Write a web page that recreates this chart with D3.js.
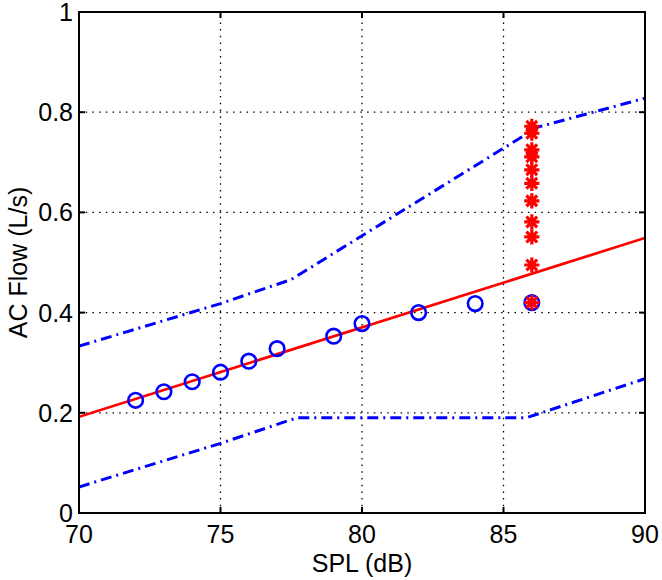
<!DOCTYPE html>
<html><head><meta charset="utf-8">
<script src="https://cdn.jsdelivr.net/npm/d3@7"></script>
<style>body{margin:0;background:#fff}svg{display:block}text{font-family:"Liberation Sans",Arial,sans-serif;fill:#000}</style>
</head><body><svg id="c" width="662" height="580"></svg>
<script>
const xTicks = [70, 75, 80, 85, 90];
const yTicks = [0, 0.2, 0.4, 0.6, 0.8, 1];
const yTickLabels = ["0", "0.2", "0.4", "0.6", "0.8", "1"];
const circleX = [72, 73, 74, 75, 76, 77, 79, 80, 82, 84, 86];
const circleY = [0.225, 0.242, 0.262, 0.281, 0.303, 0.328, 0.353, 0.378, 0.400, 0.418, 0.420];
const starX = 86;
const starY = [0.772, 0.758, 0.725, 0.711, 0.685, 0.658, 0.623, 0.581, 0.551, 0.495, 0.420];
const fitX = [70, 90];
const fitY = [0.192, 0.549];
const upperX = [70, 75, 77.5, 86.2, 90];
const upperY = [0.333, 0.418, 0.466, 0.770, 0.828];
const lowerX = [70, 75, 77.7, 85.8, 90];
const lowerY = [0.052, 0.139, 0.190, 0.190, 0.268];

const svg = d3.select("#c");
const L = 79, R = 645, T = 12, B = 513;
const x = d3.scaleLinear().domain([70, 90]).range([L, R]);
const y = d3.scaleLinear().domain([0, 1]).range([B, T]);

const g = svg.append("g");
g.selectAll(".gx").data(xTicks.slice(1, -1)).join("line")
  .attr("x1", d => x(d)).attr("x2", d => x(d)).attr("y1", B).attr("y2", T)
  .attr("stroke", "#000").attr("stroke-width", 1.3).attr("stroke-dasharray", "1.5,5.2");
g.selectAll(".gy").data(yTicks.slice(1, -1)).join("line")
  .attr("y1", d => y(d)).attr("y2", d => y(d)).attr("x1", L).attr("x2", R)
  .attr("stroke", "#000").attr("stroke-width", 1.3).attr("stroke-dasharray", "1.5,5.2");

svg.append("defs").append("clipPath").attr("id", "cl").append("rect")
  .attr("x", L).attr("y", T).attr("width", R - L).attr("height", B - T);
const plot = svg.append("g").attr("clip-path", "url(#cl)");
const line = d3.line().x(d => x(d[0])).y(d => y(d[1]));

plot.append("path").attr("d", line(d3.zip(upperX, upperY))).attr("fill", "none")
  .attr("stroke", "#0000ff").attr("stroke-width", 3).attr("stroke-dasharray", "11,5,2,5");
plot.append("path").attr("d", line(d3.zip(lowerX, lowerY))).attr("fill", "none")
  .attr("stroke", "#0000ff").attr("stroke-width", 3).attr("stroke-dasharray", "11,5,2,5");
plot.append("path").attr("d", line(d3.zip(fitX, fitY))).attr("fill", "none")
  .attr("stroke", "#ff0000").attr("stroke-width", 2.7);

plot.selectAll(".ci").data(d3.zip(circleX, circleY)).join("circle")
  .attr("cx", d => x(d[0])).attr("cy", d => y(d[1])).attr("r", 7.3)
  .attr("fill", "none").attr("stroke", "#0000ff").attr("stroke-width", 2.6);

const sr = 7.6, sd = sr * Math.SQRT1_2;
const starPath = `M${-sr},0L${sr},0M0,${-sr}L0,${sr}M${-sd},${-sd}L${sd},${sd}M${-sd},${sd}L${sd},${-sd}`;
plot.selectAll(".st").data(starY).join("path")
  .attr("transform", d => `translate(${x(starX)},${y(d)})`)
  .attr("d", starPath).attr("fill", "none").attr("stroke", "#ff0000").attr("stroke-width", 3.2);

svg.append("rect").attr("x", L).attr("y", T).attr("width", R - L).attr("height", B - T)
  .attr("fill", "none").attr("stroke", "#000").attr("stroke-width", 2);

const tl = 6;
xTicks.forEach(v => {
  svg.append("line").attr("x1", x(v)).attr("x2", x(v)).attr("y1", B).attr("y2", B - tl).attr("stroke", "#000").attr("stroke-width", 2);
  svg.append("line").attr("x1", x(v)).attr("x2", x(v)).attr("y1", T).attr("y2", T + tl).attr("stroke", "#000").attr("stroke-width", 2);
});
yTicks.forEach(v => {
  svg.append("line").attr("y1", y(v)).attr("y2", y(v)).attr("x1", L).attr("x2", L + tl).attr("stroke", "#000").attr("stroke-width", 2);
  svg.append("line").attr("y1", y(v)).attr("y2", y(v)).attr("x1", R).attr("x2", R - tl).attr("stroke", "#000").attr("stroke-width", 2);
});

svg.selectAll(".xl").data(xTicks).join("text")
  .attr("x", d => x(d)).attr("y", 543).attr("text-anchor", "middle")
  .attr("font-size", 25).text(d => d);
svg.selectAll(".yl").data(yTicks).join("text")
  .attr("x", 73).attr("y", d => y(d) + 9).attr("text-anchor", "end")
  .attr("font-size", 25).text((d, i) => yTickLabels[i]);

svg.append("text").attr("x", x(80)).attr("y", 572).attr("text-anchor", "middle")
  .attr("font-size", 25).text("SPL (dB)");
svg.append("text").attr("transform", `translate(27,${(T + B) / 2}) rotate(-90)`)
  .attr("text-anchor", "middle").attr("font-size", 25).text("AC Flow (L/s)");
</script></body></html>
